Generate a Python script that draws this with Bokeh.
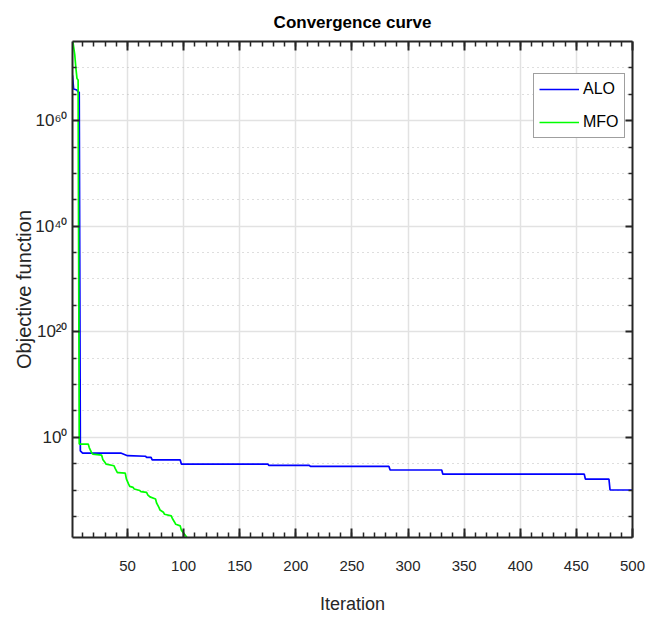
from bokeh.plotting import figure
from bokeh.models import Range1d, FixedTicker, LinearAxis, LogAxis, CustomJSTickFormatter
from bokeh.embed import file_html
from bokeh.resources import INLINE

# ---- data (iteration, log10 of objective value) ----
alo_iter = [1, 2, 5, 6, 7, 8, 10, 44, 50, 66, 67, 71, 72, 97, 98, 175, 176, 212, 213,
            283, 284, 330, 331, 457, 458, 479, 480, 500]
alo_log = [68.6, 66.0, 65.8, 65.4, 65.4, -2.6, -3.0, -3.0, -3.5, -3.6, -3.8, -3.8, -4.3,
           -4.3, -5.08, -5.08, -5.34, -5.34, -5.53, -5.53, -6.21, -6.21, -7.0, -7.0,
           -7.92, -7.92, -10.0, -10.0]

mfo_iter = [1, 2, 3, 4, 5, 6, 7, 15, 16, 18, 19, 27, 28, 30, 31, 38, 39, 41, 42, 48, 49,
            51, 52, 55, 56, 61, 62, 67, 68, 69, 70, 75, 76, 78, 79, 82, 83, 89, 90, 92, 93,
            97, 98, 103, 104]
mfo_log = [75.5, 74.0, 72.5, 70.0, 68.0, 67.7, -1.3, -1.3, -2.0, -2.9, -3.2, -3.4, -4.2,
           -4.8, -5.1, -5.4, -5.9, -6.7, -6.7, -6.8, -7.9, -8.9, -9.3, -9.5, -9.8, -10.1,
           -10.3, -10.45, -10.9, -11.1, -11.3, -11.7, -12.5, -13.3, -13.8, -14.2, -14.6,
           -14.9, -15.4, -16.1, -16.5, -16.8, -17.6, -19.0, -19.5]

x_major = [50, 100, 150, 200, 250, 300, 350, 400, 450, 500]
x_minor = list(range(10, 500, 10))
y_major_exp = [0, 20, 40, 60]
y_minor_exp = [-15, -10, -5, 5, 10, 15, 25, 30, 35, 45, 50, 55, 65, 70]

alo_y = [10.0 ** v for v in alo_log]
mfo_y = [10.0 ** v for v in mfo_log]

FONT = "Liberation Sans"
AX = "#262626"

p = figure(width=649, height=618, y_axis_type="log",
           x_range=Range1d(1, 500), y_range=Range1d(1e-19, 1e75),
           output_backend="svg", toolbar_location=None,
           min_border_left=72, min_border_right=17, min_border_top=40,
           min_border_bottom=81, title="Convergence curve")
p.outline_line_color = None
p.background_fill_color = "white"
p.border_fill_color = "white"

p.title.align = "center"
p.title.text_font = FONT
p.title.text_font_size = "17px"
p.title.text_font_style = "bold"
p.title.text_color = "black"
p.title.standoff = 20

xt = FixedTicker(ticks=x_major, minor_ticks=x_minor)
yt = FixedTicker(ticks=[10.0 ** e for e in y_major_exp],
                 minor_ticks=[10.0 ** e for e in y_minor_exp])

sup_code = r"""
const m = {'0':'\u2070','1':'\u00b9','2':'\u00b2','3':'\u00b3','4':'\u2074',
           '5':'\u2075','6':'\u2076','7':'\u2077','8':'\u2078','9':'\u2079','-':'\u207b'};
const e = Math.round(Math.log10(tick));
return '10' + String(e).split('').map(c => m[c]).join('');
"""


def style_axis(ax, major_in, minor_in):
    ax.axis_line_color = AX
    ax.axis_line_width = 2
    ax.major_tick_line_color = AX
    ax.minor_tick_line_color = AX
    ax.major_tick_line_width = 2
    ax.minor_tick_line_width = 1.5
    ax.major_tick_in = major_in
    ax.major_tick_out = 0
    ax.minor_tick_in = minor_in
    ax.minor_tick_out = 0


xa = p.xaxis[0]
xa.ticker = xt
style_axis(xa, 9, 5)
xa.major_label_text_font = FONT
xa.major_label_text_font_size = "15px"
xa.major_label_text_color = AX
xa.major_label_standoff = 23
xa.axis_label = "Iteration"
xa.axis_label_text_font = FONT
xa.axis_label_text_font_size = "18px"
xa.axis_label_text_font_style = "normal"
xa.axis_label_text_color = AX
xa.axis_label_standoff = 20

ya = p.yaxis[0]
ya.ticker = yt
style_axis(ya, 7, 4)
ya.formatter = CustomJSTickFormatter(code=sup_code)
ya.major_label_text_font = FONT
ya.major_label_text_font_size = "17px"
ya.major_label_text_color = AX
ya.major_label_standoff = 5
ya.axis_label = "Objective function"
ya.axis_label_text_font = FONT
ya.axis_label_text_font_size = "20px"
ya.axis_label_text_font_style = "normal"
ya.axis_label_text_color = AX
ya.axis_label_standoff = -3

blank = "return '';"
top = LinearAxis(ticker=xt, formatter=CustomJSTickFormatter(code=blank),
                 major_label_standoff=0)
style_axis(top, 9, 5)
p.add_layout(top, "above")
right = LogAxis(ticker=yt, formatter=CustomJSTickFormatter(code=blank),
                major_label_standoff=0)
style_axis(right, 7, 4)
p.add_layout(right, "right")

p.xgrid.ticker = xt
p.ygrid.ticker = yt
p.xgrid.grid_line_color = "#e2e2e2"
p.xgrid.grid_line_width = 1.5
p.ygrid.grid_line_color = "#e2e2e2"
p.ygrid.grid_line_width = 1.5
p.ygrid.minor_grid_line_color = "#bdbdbd"
p.ygrid.minor_grid_line_dash = "1 4"
p.ygrid.minor_grid_line_width = 1.2

p.line(alo_iter, alo_y, line_color="#0000ff", line_width=1.7, legend_label="ALO")
p.line(mfo_iter, mfo_y, line_color="#00ff00", line_width=1.7, legend_label="MFO")

lg = p.legend[0]
lg.location = (461, 399)
lg.glyph_width = 40
lg.glyph_height = 20
lg.label_text_font = FONT
lg.label_text_font_size = "16px"
lg.label_text_color = "black"
lg.label_standoff = 4
lg.spacing = 13
lg.padding = 5
lg.margin = 0
lg.border_line_color = "#404040"
lg.border_line_width = 1.2
lg.background_fill_alpha = 1.0

open("out.html", "w").write(file_html(p, INLINE))
